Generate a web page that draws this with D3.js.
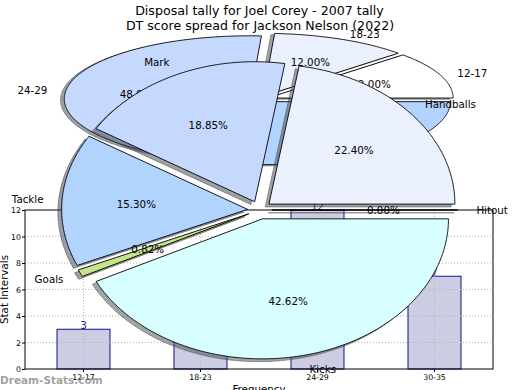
<!DOCTYPE html>
<html><head><meta charset="utf-8">
<script src="https://cdn.jsdelivr.net/npm/d3@7/dist/d3.min.js"></script>
<style>body{margin:0;background:#fff} svg{display:block} text{font-family:"DejaVu Sans",sans-serif}</style>
</head><body><svg id="c" width="520" height="390"></svg>
<script>
// ---------- data ----------
const titleFront = "Disposal tally for Joel Corey - 2007 tally";
const titleBack = "DT score spread for Jackson Nelson (2022)";
const barCats = ["12-17", "18-23", "24-29", "30-35"];
const barVals = [3, 3, 12, 7];
const yTicks = [0, 2, 4, 6, 8, 10, 12];
const dtLabels = ["12-17", "18-23", "24-29", "30-35"];
const dtVals = [3, 3, 12, 7];
const dispLabels = ["Hitout", "Handballs", "Mark", "Tackle", "Goals", "Kicks"];
const dispVals = [0, 82, 69, 56, 3, 156];
const pieColors = ["#ffffff", "#eaf0fe", "#c5d8fe", "#b0d4fe", "#c6e48b", "#d7ffff"];
const xLabel = "Frequency", yLabel = "Stat Intervals", watermark = "Dream-Stats.com";

const svg = d3.select("#c");

// ---------- bar chart ----------
const plot = {l: 25, r: 493, t: 210, b: 369};
const x = d3.scaleBand().domain(barCats).range([plot.l, plot.r]);
const y = d3.scaleLinear().domain([0, 12]).range([plot.b, plot.t]);
const barW = x.bandwidth() * 0.453;
const gBar = svg.append("g");

gBar.selectAll("rect.bar").data(barVals).join("rect")
  .attr("x", (d, i) => x(barCats[i]) + x.bandwidth() / 2 - barW / 2)
  .attr("y", d => y(d)).attr("width", barW).attr("height", d => y(0) - y(d))
  .attr("fill", "#ccccE3").attr("stroke", "#10108a").attr("stroke-width", 1);

gBar.selectAll("line.hg").data(yTicks.slice(1, -1)).join("line")
  .attr("x1", plot.l).attr("x2", plot.r).attr("y1", d => y(d)).attr("y2", d => y(d))
  .attr("stroke", "#b4b4b4").attr("stroke-dasharray", "1,2");
gBar.selectAll("line.vg").data(barCats).join("line")
  .attr("x1", d => x(d) + x.bandwidth() / 2).attr("x2", d => x(d) + x.bandwidth() / 2)
  .attr("y1", plot.t).attr("y2", plot.b)
  .attr("stroke", "#b4b4b4").attr("stroke-dasharray", "1,2");

gBar.append("rect").attr("x", plot.l).attr("y", plot.t)
  .attr("width", plot.r - plot.l).attr("height", plot.b - plot.t)
  .attr("fill", "none").attr("stroke", "#000").attr("stroke-width", 1);

const ax = gBar.append("g").attr("transform", `translate(${plot.l},0)`)
  .call(d3.axisLeft(y).tickValues(yTicks).tickSize(3).tickPadding(1));
const bx = gBar.append("g").attr("transform", `translate(0,${plot.b})`)
  .call(d3.axisBottom(x).tickSize(3).tickPadding(2));
[ax, bx].forEach(a => {
  a.select(".domain").remove();
  a.selectAll("text").attr("font-size", 7.8).attr("font-family", "DejaVu Sans").attr("fill", "#000");
  a.selectAll("line").attr("stroke", "#000");
});

gBar.selectAll("text.val").data(barVals).join("text")
  .attr("x", (d, i) => x(barCats[i]) + x.bandwidth() / 2).attr("y", d => y(d) - 0.3)
  .attr("text-anchor", "middle").attr("font-size", 10.3).attr("fill", "#2424a8")
  .text(d => d);

gBar.append("text").attr("transform", `translate(8,${(plot.t + plot.b) / 2}) rotate(-90)`)
  .attr("text-anchor", "middle").attr("font-size", 10.3).text(yLabel);
gBar.append("text").attr("x", (plot.l + plot.r) / 2).attr("y", 393)
  .attr("text-anchor", "middle").attr("font-size", 10.3).text(xLabel);

// ---------- pie helper ----------
function drawPie(g, labels, vals, geo) {
  const xs = d3.scaleLinear().domain([-1, 1]).range([geo.cx - geo.rx, geo.cx + geo.rx]);
  const ys = d3.scaleLinear().domain([-1, 1]).range([geo.cy + geo.ry, geo.cy - geo.ry]);
  const arcs = d3.pie().sort(null).value(d => d).startAngle(0).endAngle(2 * Math.PI)(vals);
  const total = d3.sum(vals);
  const line = d3.line().x(p => xs(p[0])).y(p => ys(p[1]));
  const wedges = arcs.map((a, i) => {
    const m = (a.startAngle + a.endAngle) / 2;
    const ox = geo.explode * Math.cos(m), oy = geo.explode * Math.sin(m);
    const n = Math.max(2, Math.ceil((a.endAngle - a.startAngle) / 0.01));
    const pts = [[ox, oy]];
    for (let k = 0; k <= n; k++) {
      const t = a.startAngle + (a.endAngle - a.startAngle) * k / n;
      pts.push([ox + Math.cos(t), oy + Math.sin(t)]);
    }
    return {i, m, ox, oy, pts, a};
  });
  // shadows
  wedges.forEach(w => {
    const c = d3.rgb(pieColors[w.i]);
    const sc = d3.rgb(c.r * 0.3, c.g * 0.3, c.b * 0.3);
    g.append("path").attr("d", line(w.pts.map(p => [p[0] - 0.02, p[1] - 0.02])) + "Z")
      .attr("fill", sc).attr("fill-opacity", 0.5)
      .attr("stroke", sc).attr("stroke-opacity", 0.5).attr("stroke-width", 1);
  });
  wedges.forEach(w => {
    g.append("path").attr("d", line(w.pts) + "Z")
      .attr("fill", pieColors[w.i]).attr("stroke", "#000").attr("stroke-width", 0.9)
      .attr("stroke-linejoin", "miter");
  });
  wedges.forEach(w => {
    const lx = w.ox + 1.1 * Math.cos(w.m), ly = w.oy + 1.1 * Math.sin(w.m);
    g.append("text").attr("x", xs(lx)).attr("y", ys(ly))
      .attr("text-anchor", lx > 0 ? "start" : "end").attr("dominant-baseline", "central")
      .attr("font-size", 10.3).text(labels[w.i]);
    const px = w.ox + 0.6 * Math.cos(w.m), py = w.oy + 0.6 * Math.sin(w.m);
    g.append("text").attr("x", xs(px)).attr("y", ys(py))
      .attr("text-anchor", "middle").attr("dominant-baseline", "central")
      .attr("font-size", 10.3).text(d3.format(".2f")(vals[w.i] / total * 100) + "%");
  });
}

// ---------- back pie ----------
const gBack = svg.append("g");
drawPie(gBack, dtLabels, dtVals, {cx: 259, cy: 99.2, rx: 185.5, ry: 63, explode: 0.05});
gBack.append("text").attr("x", 260).attr("y", 30.3).attr("text-anchor", "middle")
  .attr("font-size", 12.6).text(titleBack);

// ---------- front pie ----------
const gFront = svg.append("g");
svg.append("text").attr("x", 259.5).attr("y", 14.5).attr("text-anchor", "middle")
  .attr("font-size", 12.6).text(titleFront);
drawPie(gFront, dispLabels, dispVals, {cx: 259.7, cy: 210, rx: 186, ry: 140, explode: 0.065});

// ---------- watermark ----------
svg.append("text").attr("x", 0).attr("y", 384).attr("font-size", 10.5).attr("font-weight", "bold")
  .attr("fill", "#888").attr("fill-opacity", 0.8).text(watermark);
</script></body></html>
